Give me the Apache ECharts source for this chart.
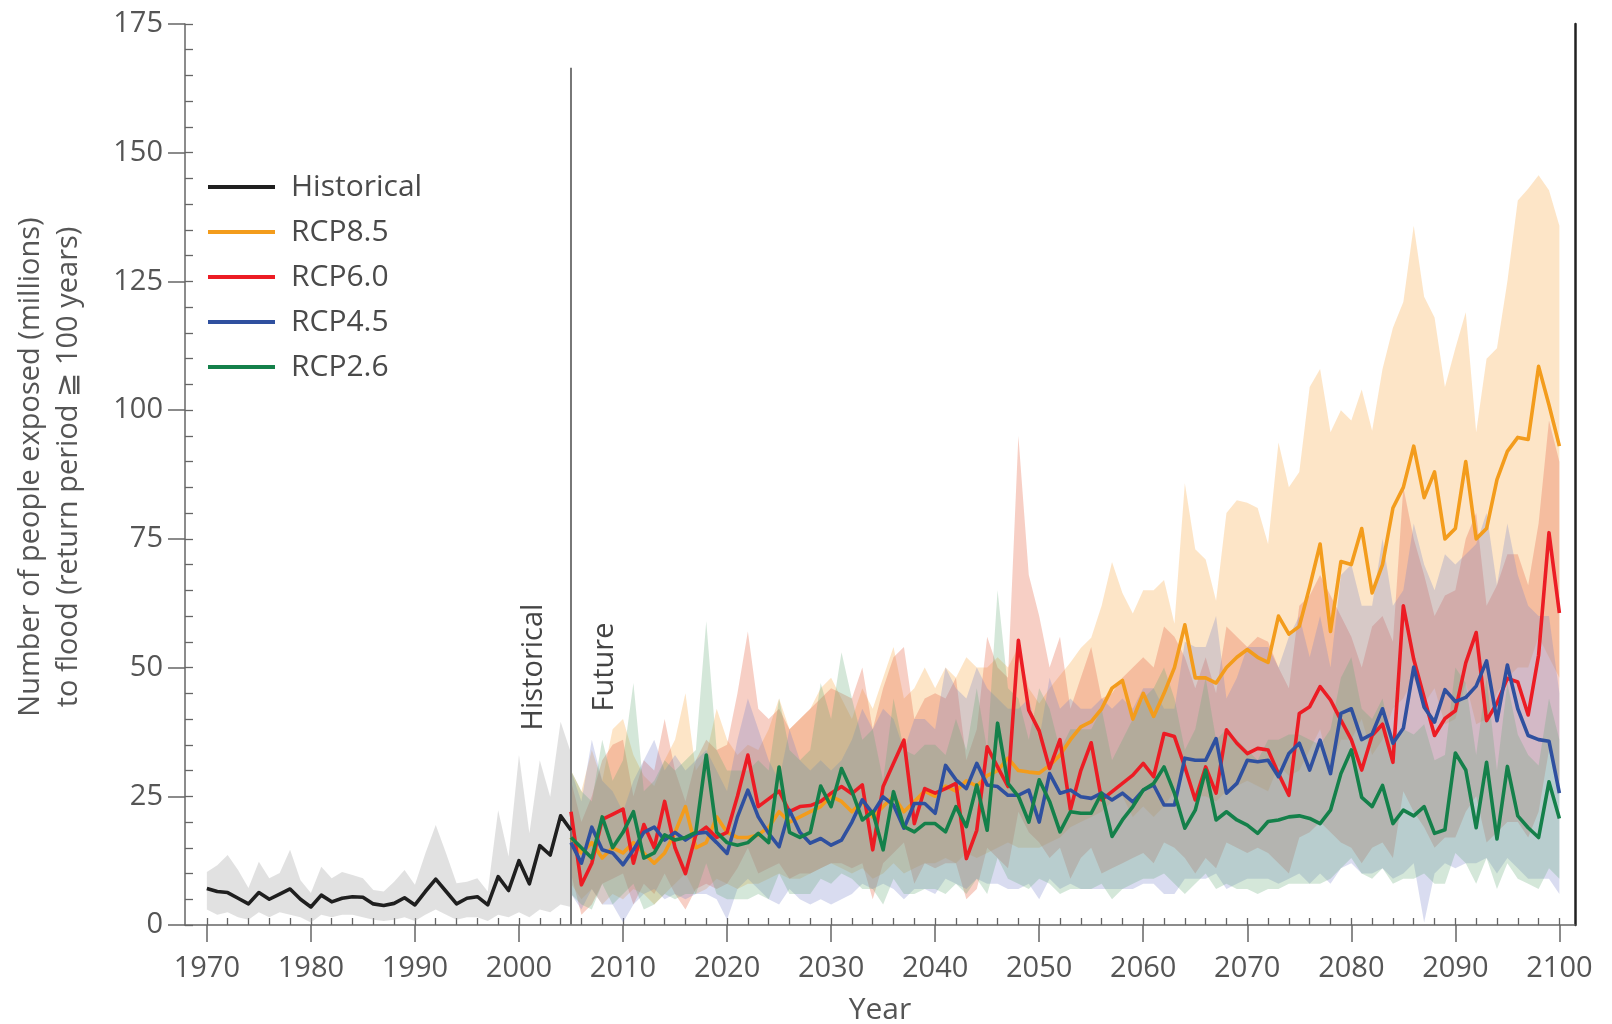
<!DOCTYPE html>
<html><head><meta charset="utf-8">
<script src="https://cdn.jsdelivr.net/npm/echarts@6/dist/echarts.min.js"></script>
<style>html,body{margin:0;padding:0;background:#fff}#c{width:1612px;height:1024px}</style>
</head><body><div id="c"></div>
<script>
// ---------- DATA ----------
const histStart = 1970;
const futureStart = 2005;
const xTickLabels = [1970,1980,1990,2000,2010,2020,2030,2040,2050,2060,2070,2080,2090,2100];

const hist = [7.1,6.5,6.3,5.2,4.1,6.3,5.0,6.0,7.0,5.0,
  3.5,5.8,4.5,5.2,5.5,5.4,4.1,3.8,4.2,5.3,
  3.9,6.5,8.9,6.5,4.1,5.2,5.5,3.9,9.4,6.7,
  12.5,8.0,15.4,13.6,21.2,18.4];
const histUpper = [10.3,11.6,13.6,10.7,7.2,12.3,9.1,10.1,14.6,8.7,
  6.2,11.3,9.1,10.3,9.7,9.1,6.8,6.5,8.4,10.7,
  7.8,13.9,19.4,13.9,8.1,8.4,9.1,6.5,22.3,13.3,
  33.0,17.8,32.0,24.9,39.5,33.4];
const histLower = [3,2,2.5,1.5,1,2.5,1.5,2.5,2,1.5,
  0.5,2,1.5,2,2,1.5,1,0.8,1,1.5,
  0.8,2,3,2,1,1.5,1.5,0.8,2,1.5,
  2.5,1.5,3,2.5,4,3.5];

const rcp85 = [17,14,16,13,15,14,16,14,12,14,
  18,23,15,16,21,18,17,17,17.5,19,
  22,20,21,22,23,25,24,22,24,21,
  23,25,22,24,26,25,27,26,28,27,
  29,30,32.4,30,29.7,29.5,31,33,36,38.5,
  39.5,42,46,47.5,40,45,40.5,45,50,58.3,
  48,48,47,50,52,53.5,52,51,60,56.5,
  58,65.7,74,57,70.6,70,77,64.5,70,81,
  85,93,83,88,75,77,90,75,77,86.5,
  92,94.7,94.3,108.5,101,93];
const rcp85Upper = [30,26,34,28,38,40,33,29,27,32,
  36,45,30,33,42,36,33,35,34,38,
  44,38,40,42,46,48,44,40,46,42,
  48,54,44,46,50,46,50,48,52,50,
  50,52,50,54,46,43,46,48.5,51,53.8,
  55.8,62,70.5,64.5,60.5,65,65,67,58.5,85.8,
  73,71,63,80,82.5,82,81,74,93.7,85,
  88,104.5,108,95.7,100,98,104,96,108,116,
  121,135.8,122,118,104.5,112,119,95.7,110,112,
  125,140.7,143,145.6,142.7,135.8];
const rcp85Lower = [8,5,7,4,6,5,7,6,4,6,
  8,10,6,7,9,8,7,8,8,9,
  10,9,9,10,11,12,11,10,11,9,
  10,12,10,11,12,12,13,12,14,13,
  14,15,16,15,15,15,16,17,19,20,
  21,22,24,25,21,23,21,23,26,30,
  25,25,24,26,27,28,27,26,31,29,
  30,34,38,30,36,36,40,33,36,42,
  44,48,43,46,39,40,47,39,40,45,
  48,50,50,56,52,48];

const rcp60 = [22,7.8,12,20.5,21.5,22.5,12,19.5,15,24,
  15,10,17.5,19,17,18,25,33,23,24.5,
  26,22,23,23.2,24,25.6,26.9,25.5,27.2,14.6,
  26.9,31.4,35.9,19.7,26.5,25.6,26.5,27.5,12.9,18.4,
  34.6,30.7,26.9,55.3,41.7,37.7,30.4,36,22.4,30,
  35.4,24.3,25.9,27.5,29.1,31.4,28.8,37.2,36.6,30.7,
  24.3,30.7,25.6,37.9,35.3,33.3,34.3,34,29.4,25.2,
  41.1,42.4,46.3,43.7,39.8,36,30.1,36.8,39,31.6,
  62,51.6,44.2,36.8,40.1,41.6,50.9,56.8,39.7,43.1,
  47.9,47.2,40.8,52.4,76.2,60.6];
const rcp60Upper = [28,20,25,32,35,36,25,32,30,40,
  30,24,32,36,34,35,45,57,42,40,
  42,38,40,42,44,46,45,44,50,38,
  46,52,54,40,44,45,44,48,32,38,
  56,50,48,95,68,60,50,56,42,48,
  54,44,45,48,50,52,50,58,56,52,
  46,52,45,58,56,54,56,55,50,46,
  62,64,68,64,60,56,50,58,60,55,
  85,75,68,60,64,65,75,80,62,66,
  72,72,66,78,98,90];
const rcp60Lower = [10,2,4,8,9,10,4,8,6,10,
  6,3,7,8,7,8,11,15,10,11,
  12,9,10,10,11,12,12,11,12,5,
  12,14,16,8,12,11,12,12,5,7,
  15,13,11,22,18,16,13,15,9,13,
  15,10,11,12,13,14,12,16,15,13,
  10,13,11,16,15,14,15,14,12,10,
  17,18,20,18,16,15,12,15,16,13,
  26,22,19,15,17,17,22,25,16,18,
  20,20,17,22,34,26];

const rcp45 = [16,12,19,14.6,14,11.7,14.6,18,19,16.5,
  18,16.5,17.8,18,16,13.9,21,26.2,21,17.8,
  15.2,22.3,18,15.9,16.8,15.5,16.5,20,24.3,21.7,
  24.9,23.3,18.8,23.6,23.6,21.7,31,28.2,26.5,31.4,
  27.2,26.9,25.2,25.2,26.2,20,29.4,25.6,26.2,24.9,
  24.6,25.6,24.3,25.6,23.9,26.2,27.2,23.3,23.3,32.4,
  32,32,36.2,25.6,27.5,32,31.7,32,28.8,33.3,
  35.3,30.1,35.9,29.4,41.1,42,36,37.1,42,35.3,
  38.2,50.1,42.3,39.4,45.7,43.4,44.2,46.4,51.3,39.7,
  50.5,42,36.8,36,35.7,25.6];
const rcp45Upper = [30,24,36,28,26,22,28,32,36,30,
  33,30,32,34,30,26,36,44,38,32,
  28,38,32,30,32,30,32,36,42,38,
  42,40,34,40,40,38,50,46,44,50,
  46,44,42,42,44,36,48,42,44,42,
  42,44,42,44,42,46,46,42,42,55,
  54,54,60,44,48,54,54,54,50,56,
  60,52,60,50,68,70,62,62,75,62,
  65,78,70,65,72,70,72,74,80,66,
  78,68,62,60,60,45];
const rcp45Lower = [6,3,7,4,4,0.5,4,6,7,5,
  6,5,6,6,5,1,7,9,7,5,
  4,7,5,4,5,4,5,6,8,7,
  8,7,5,7,7,6,9,8,7,9,
  8,8,7,7,8,5,9,7,8,7,
  7,7,7,7,7,8,8,6,6,9,
  9,9,10,7,8,9,9,9,8,9,
  10,8,10,8,11,12,10,10,11,9,
  10,12,0.5,10,12,11,12,12,13,10,
  13,11,9,9,9,6];

const rcp26 = [17,15,13,21,15,18,22,13,14,17.5,
  16.5,17,18,33,18,16,15.5,16,17.8,16,
  30.7,18,17,18,27,23,30.4,26,20.4,22,
  14.6,25.9,19.1,18.1,19.7,19.7,18.1,23,19.1,27.2,
  18.4,39.2,27.5,25,20,28.2,24,18.1,22,21.7,
  21.7,25.6,17.2,20.4,23,26.2,27.5,30.7,25.6,18.8,
  22.3,30.1,20.4,22,20.4,19.4,17.8,20.1,20.4,21,
  21.2,20.7,19.7,22.3,29.4,34,24.8,23,27.1,19.7,
  22.3,21.2,23,17.8,18.5,33.4,30.1,18.9,31.6,16.7,
  30.8,21.2,18.9,17,27.8,20.7];
const rcp26Upper = [30,26,24,36,28,32,47,26,28,32,
  30,32,34,59,34,30,30,30,32,30,
  44,34,32,34,47,40,53,44,36,38,
  28,44,34,33,35,35,33,40,34,46,
  34,65,46,44,36,46,42,34,38,38,
  38,42,32,36,40,44,46,50,44,34,
  38,48,36,38,36,34,32,36,36,37,
  37,36,35,38,48,52,42,40,44,35,
  38,37,39,32,33,50,47,33,48,30,
  47,37,33,31,44,36];
const rcp26Lower = [6,4,3,8,4,6,8,3,4,6,
  5,6,6,12,6,5,5,5,6,5,
  10,6,6,6,9,8,10,9,7,7,
  4,9,6,6,7,7,6,8,6,9,
  6,13,9,8,7,9,8,6,7,7,
  7,8,5,7,8,9,9,10,8,6,
  8,10,7,8,7,7,6,7,7,8,
  8,8,8,9,11,13,10,9,11,8,
  9,9,10,8,8,14,12,8,13,7,
  12,9,8,7,11,9];

const dividerYear = 2005;
const dividerTop = 166.5;

// ---------- BUILD ----------
const histYears = hist.map((_, i) => histStart + i);
const futYears = rcp85.map((_, i) => futureStart + i);
const minorTickYears = [];
for (let y = 1970; y <= 2100; y += 2) minorTickYears.push(y);

const XMIN = 1967.9, XMAX = 2101.5;
const FONT = '"Open Sans", "DejaVu Sans", sans-serif';
const TXT = '#555';

function bandSeries(name, years, lower, upper, color, z) {
  return {
    type: 'custom', name: name, z: z, silent: true, clip: true,
    data: years.map((y, i) => [y, lower[i], upper[i]]),
    encode: {x: 0, y: [1, 2]},
    renderItem: function (params, api) {
      if (params.dataIndex !== 0) return null;
      const pts = [];
      for (let i = 0; i < years.length; i++) pts.push(api.coord([years[i], upper[i]]));
      for (let i = years.length - 1; i >= 0; i--) pts.push(api.coord([years[i], lower[i]]));
      return {type: 'polygon', shape: {points: pts}, style: {fill: color}};
    }
  };
}
function lineSeries(name, years, vals, color, z) {
  return {
    type: 'line', name: name, z: z, showSymbol: false, symbol: 'none', silent: true,
    data: years.map((y, i) => [y, vals[i]]),
    lineStyle: {color: color, width: 3.6, join: 'round'},
    itemStyle: {color: color},
    animation: false
  };
}

const C = {
  hist: '#1f1f1f', r85: '#f39c1c', r60: '#ec1c24', r45: '#2f509f', r26: '#14804a'
};

const chart = echarts.init(document.getElementById('c'), null, {renderer: 'canvas'});
chart.setOption({
  animation: false,
  backgroundColor: '#fff',
  grid: {left: 185, right: 37, top: 24, bottom: 99, containLabel: false, outerBoundsMode: 'none'},
  legend: {
    orient: 'vertical', left: 203, top: 167, itemGap: 15,
    itemWidth: 67, itemHeight: 4, icon: 'rect',
    data: ['Historical', 'RCP8.5', 'RCP6.0', 'RCP4.5', 'RCP2.6'],
    textStyle: {fontFamily: FONT, fontSize: 30, color: '#4a4a4a', lineHeight: 30, padding: [0, 0, 0, 11]},
    selectedMode: false
  },
  xAxis: [{
    type: 'value', position: 'bottom', min: XMIN, max: XMAX,
    name: 'Year', nameLocation: 'middle', nameGap: 70,
    nameTextStyle: {fontFamily: FONT, fontSize: 30, color: TXT},
    axisLine: {show: true, lineStyle: {color: '#666', width: 1.5}},
    axisTick: {show: true, inside: false, length: 17, customValues: xTickLabels, lineStyle: {color: '#666', width: 1.5}},
    axisLabel: {show: true, customValues: xTickLabels, margin: 29, fontFamily: FONT, fontSize: 29, color: TXT,
                formatter: function (v) { return String(Math.round(v)); }},
    splitLine: {show: false}
  }, {
    type: 'value', position: 'bottom', min: XMIN, max: XMAX,
    axisLine: {show: false},
    axisTick: {show: true, inside: true, length: 7, customValues: minorTickYears, lineStyle: {color: '#666', width: 1.3}},
    axisLabel: {show: false},
    splitLine: {show: false}
  }],
  yAxis: [{
    type: 'value', position: 'left', min: 0, max: 175, interval: 25,
    axisLine: {show: true, lineStyle: {color: '#666', width: 1.5}},
    axisTick: {show: true, inside: false, length: 17, lineStyle: {color: '#666', width: 1.5}},
    axisLabel: {show: true, margin: 22, fontFamily: FONT, fontSize: 29, color: TXT},
    splitLine: {show: false}
  }, {
    type: 'value', position: 'left', min: 0, max: 175, interval: 5,
    axisLine: {show: false},
    axisTick: {show: true, inside: true, length: 8, lineStyle: {color: '#666', width: 1.3}},
    axisLabel: {show: false},
    splitLine: {show: false}
  }, {
    type: 'value', position: 'right', min: 0, max: 175,
    axisLine: {show: true, lineStyle: {color: '#222', width: 2.5}},
    axisTick: {show: false}, axisLabel: {show: false}, splitLine: {show: false}
  }],
  graphic: [
    {type: 'text', x: 50, y: 467, rotation: Math.PI / 2, silent: true,
     style: {text: 'Number of people exposed (millions)\nto flood (return period \u2267 100 years)',
             font: '29px ' + FONT, fill: TXT, align: 'center', verticalAlign: 'middle',
             textAlign: 'center', textVerticalAlign: 'middle', lineHeight: 38}},
    {type: 'text', x: 534, y: 667, rotation: Math.PI / 2, silent: true,
     style: {text: 'Historical', font: '29px ' + FONT, fill: '#444', align: 'center', verticalAlign: 'middle',
             textAlign: 'center', textVerticalAlign: 'middle'}},
    {type: 'text', x: 605, y: 667, rotation: Math.PI / 2, silent: true,
     style: {text: 'Future', font: '29px ' + FONT, fill: '#444', align: 'center', verticalAlign: 'middle',
             textAlign: 'center', textVerticalAlign: 'middle'}}
  ],
  series: [
    bandSeries('histBand', histYears, histLower, histUpper, 'rgba(170,170,170,0.35)', 1),
    bandSeries('band85', futYears, rcp85Lower, rcp85Upper, 'rgba(250,180,90,0.34)', 2),
    bandSeries('band60', futYears, rcp60Lower, rcp60Upper, 'rgba(232,110,80,0.33)', 3),
    bandSeries('band45', futYears, rcp45Lower, rcp45Upper, 'rgba(120,130,200,0.28)', 4),
    bandSeries('band26', futYears, rcp26Lower, rcp26Upper, 'rgba(100,170,120,0.28)', 5),
    {
      type: 'line', name: 'divider', z: 6, silent: true, showSymbol: false, symbol: 'none',
      data: [[dividerYear, 0], [dividerYear, dividerTop]],
      lineStyle: {color: '#777', width: 2}
    },
    lineSeries('RCP8.5', futYears, rcp85, C.r85, 10),
    lineSeries('RCP6.0', futYears, rcp60, C.r60, 11),
    lineSeries('RCP4.5', futYears, rcp45, C.r45, 12),
    lineSeries('RCP2.6', futYears, rcp26, C.r26, 13),
    lineSeries('Historical', histYears, hist, C.hist, 14)
  ]
});
</script>
</body></html>
